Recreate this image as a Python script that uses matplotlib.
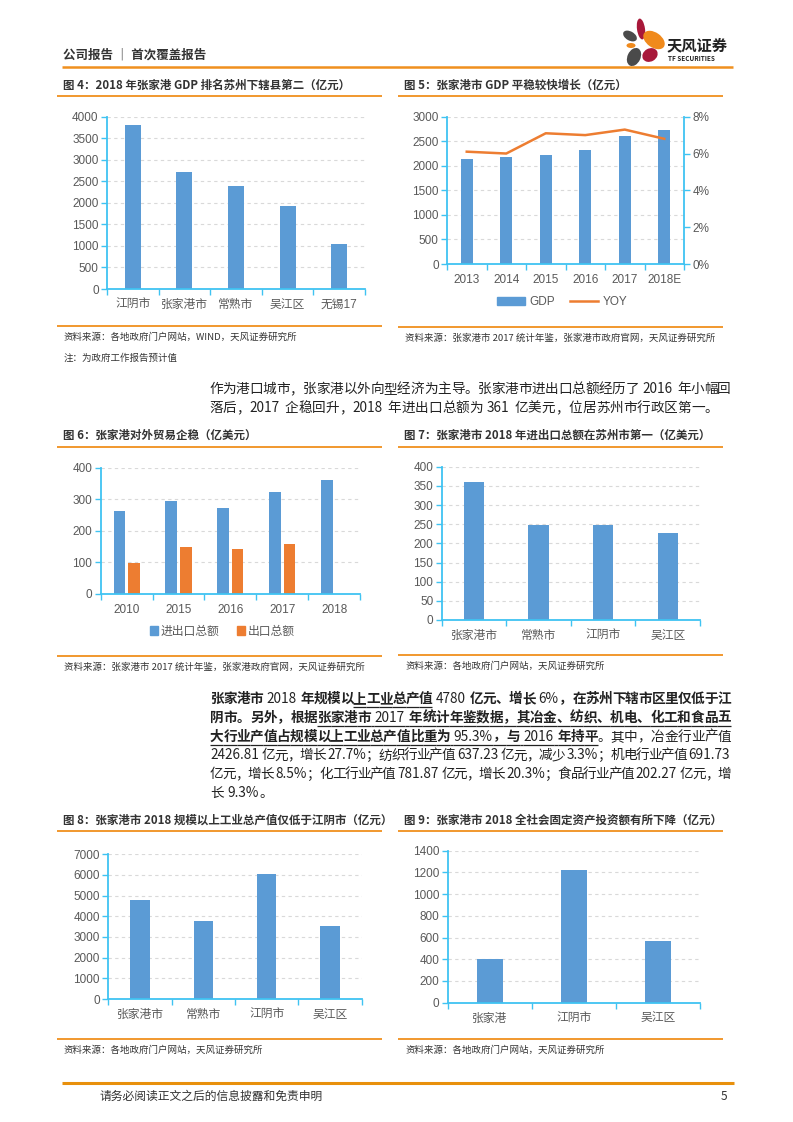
import re
import numpy as np
import matplotlib
matplotlib.use("Agg")
import matplotlib.pyplot as plt
from matplotlib.patches import Ellipse, Patch
from matplotlib.lines import Line2D

plt.rcParams['font.family'] = ['Liberation Sans', 'Noto Sans CJK SC']

# data
gdp_cities = ['江阴市', '张家港市', '常熟市', '吴江区', '无锡17']
gdp_2018 = [3800, 2718, 2395, 1930, 1050]

zjg_years = ['2013', '2014', '2015', '2016', '2017', '2018E']
zjg_gdp = [2147, 2174, 2228, 2316, 2607, 2722]
zjg_yoy = [6.1, 6.0, 7.1, 7.0, 7.3, 6.8]

trade_years = ['2010', '2015', '2016', '2017', '2018']
trade_total = [262, 293, 273, 322, 361]
trade_export = [99, 148, 141, 159, np.nan]

trade_cities = ['张家港市', '常熟市', '江阴市', '吴江区']
trade_2018 = [361, 249, 248, 228]

ind_cities = ['张家港市', '常熟市', '江阴市', '吴江区']
ind_output = [4780, 3758, 6048, 3516]

inv_cities = ['张家港', '江阴市', '吴江区']
inv_2018 = [399, 1219, 568]

BLUE = '#5B9BD5'
ORANGE = '#ED7D31'
AXC = '#3FC3F2'
LINE = '#F0901E'
TXT = '#595959'
DARK = '#333333'
BODY = ['Noto Sans CJK SC', 'DejaVu Sans']

W, H = 793, 1122
fig = plt.figure(figsize=(W / 100, H / 100), dpi=100)
bg = fig.add_axes([0, 0, 1, 1])
bg.set_xlim(0, W)
bg.set_ylim(H, 0)
bg.set_autoscale_on(False)
bg.axis('off')


def box(x0, y0, x1, y1):
    return [x0 / W, 1 - y1 / H, (x1 - x0) / W, (y1 - y0) / H]


def hline(x0, x1, y, lw=1.3, color=LINE):
    bg.plot([x0, x1], [y, y], color=color, lw=lw, solid_capstyle='butt')


def style(ax, ymax, step, ncat):
    ax.set_facecolor('none')
    ax.set_xlim(-0.5, ncat - 0.5)
    ax.set_ylim(0, ymax)
    ax.set_yticks(np.arange(0, ymax + 1, step))
    for s in ['top', 'right']:
        ax.spines[s].set_visible(False)
    for s in ['left', 'bottom']:
        ax.spines[s].set_color(AXC)
        ax.spines[s].set_linewidth(1.3)
    ax.yaxis.grid(True, color='#D9D9D9', lw=0.8, ls=(0, (3, 3)))
    ax.set_axisbelow(True)
    ax.set_xticks(range(ncat))
    ax.set_xticks(np.arange(-0.5, ncat), minor=True)
    ax.tick_params(axis='x', which='major', length=0, pad=7, labelsize=8.5, labelcolor=TXT)
    ax.tick_params(axis='x', which='minor', length=4, color=AXC, width=1)
    ax.tick_params(axis='y', length=4, color=AXC, width=1, labelsize=8.5, labelcolor=TXT, pad=2)


def section(x0, x1, ytitle, title, ybot, source, note=None):
    bg.text(x0 + 6, ytitle, title, fontsize=8.3, fontweight='bold', color=DARK,
            va='center', family=BODY)
    hline(x0, x1, ytitle + 11)
    hline(x0, x1, ybot)
    bg.text(x0 + 7, ybot + 11, source, fontsize=6.8, color=DARK, va='center', family=BODY)
    if note:
        bg.text(x0 + 7, ybot + 32, note, fontsize=6.8, color=DARK, va='center', family=BODY)


def em(size):
    return size * 100 / 72


def draw_line(segs, x0, y, size, right=None, color='#222222'):
    r = fig.canvas.get_renderer()
    items = []
    for text, weight, ul in segs:
        for tok in re.findall(r'[A-Za-z0-9.%]+|.', text):
            if tok == ' ':
                items.append([None, em(size) * 0.28, ul])
                continue
            t = bg.text(x0, y, tok, fontsize=size, fontweight=weight, color=color,
                        va='center', ha='left', family=BODY)
            if ord(tok[0]) > 0x2E80:
                w = em(size)
            else:
                w = t.get_window_extent(r).width + 1
            items.append([t, w, ul])
    gap = 0
    if right is not None and len(items) > 1:
        gap = (right - x0 - sum(i[1] for i in items)) / (len(items) - 1)
    x = x0
    for k, (t, w, ul) in enumerate(items):
        if t is not None:
            t.set_x(x)
        if ul:
            nxt = items[k + 1][2] if k + 1 < len(items) else False
            bg.plot([x, x + w + (gap if nxt else 0)], [y + 8, y + 8], color=color,
                    lw=0.9, solid_capstyle='butt')
        x += w + gap


# header
bg.text(63, 55, '公司报告 ｜ 首次覆盖报告', fontsize=9, fontweight='bold', color=DARK,
        va='center', family=BODY)
hline(62, 733, 67, lw=1.8)
# logo petals
petals = [
    (641, 29, 8, 21, -8, '#A8183A'),
    (630, 36, 15, 9, 30, '#4A4A4A'),
    (654, 40, 24, 15, 35, '#F08A1C'),
    (631, 45.5, 9, 5, 0, '#F08A1C'),
    (650, 55, 16, 13, -30, '#A8183A'),
    (634, 57, 13, 19, 25, '#4A4A4A'),
]
for px, py, pw, ph, ang, c in petals:
    bg.add_patch(Ellipse((px, py), pw, ph, angle=ang, color=c, lw=0))
bg.text(667, 45, '天风证券', fontsize=11, fontweight='bold', color='#222222',
        va='center', family=BODY)
bg.text(668, 58, 'TF SECURITIES', fontsize=4.6, fontweight='bold', color='#222222',
        va='center', family=BODY)

# fig 4
section(57, 382, 85, '图 4：2018 年张家港 GDP 排名苏州下辖县第二（亿元）', 326,
        '资料来源：各地政府门户网站，WIND，天风证券研究所', '注：为政府工作报告预计值')
ax = fig.add_axes(box(107, 116.7, 365, 289))
ax.bar(range(len(gdp_cities)), gdp_2018, width=0.31, color=BLUE)
style(ax, 4000, 500, len(gdp_cities))
ax.set_xticklabels(gdp_cities)

# fig 5
section(398, 723, 85, '图 5：张家港市 GDP 平稳较快增长（亿元）', 326.7,
        '资料来源：张家港市 2017 统计年鉴，张家港市政府官网，天风证券研究所')
ax = fig.add_axes(box(447, 116.7, 684, 264))
ax.bar(range(len(zjg_years)), zjg_gdp, width=0.31, color=BLUE)
style(ax, 3000, 500, len(zjg_years))
ax.set_xticklabels(zjg_years)
ax2 = ax.twinx()
ax2.plot(range(len(zjg_years)), zjg_yoy, color=ORANGE, lw=1.8)
ax2.set_ylim(0, 8)
ax2.set_yticks([0, 2, 4, 6, 8])
ax2.set_yticklabels([f'{v}%' for v in [0, 2, 4, 6, 8]])
for s in ['top', 'left', 'bottom']:
    ax2.spines[s].set_visible(False)
ax2.spines['right'].set_color(AXC)
ax2.spines['right'].set_linewidth(1.3)
ax2.tick_params(axis='y', length=4, color=AXC, width=1, labelsize=8.5, labelcolor=TXT, pad=2)
fig.legend(handles=[Patch(color=BLUE, label='GDP'),
                    Line2D([], [], color=ORANGE, lw=1.8, label='YOY')],
           loc='center', bbox_to_anchor=(562 / W, 1 - 302 / H), ncol=2, frameon=False,
           fontsize=8.5, labelcolor=TXT, handlelength=2.4, handleheight=0.6,
           handletextpad=0.4, columnspacing=1.2)

# paragraph 1
draw_line([('作为港口城市，张家港以外向型经济为主导。张家港市进出口总额经历了 2016 年小幅回', 'normal', False)],
          209, 389, 9.8, right=731)
draw_line([('落后，2017 企稳回升，2018 年进出口总额为 361 亿美元，位居苏州市行政区第一。', 'normal', False)],
          209, 408, 9.8)

# fig 6
section(57, 382, 435.7, '图 6：张家港对外贸易企稳（亿美元）', 655.7,
        '资料来源：张家港市 2017 统计年鉴，张家港政府官网，天风证券研究所')
ax = fig.add_axes(box(100.7, 467.7, 360, 594))
xs = np.arange(len(trade_years))
ax.bar(xs - 0.14, trade_total, width=0.225, color=BLUE)
ax.bar(xs + 0.14, trade_export, width=0.225, color=ORANGE)
style(ax, 400, 100, len(trade_years))
ax.set_xticklabels(trade_years)
fig.legend(handles=[Patch(color=BLUE, label='进出口总额'),
                    Patch(color=ORANGE, label='出口总额')],
           loc='center', bbox_to_anchor=(222 / W, 1 - 631.7 / H), ncol=2, frameon=False,
           fontsize=8.5, labelcolor=TXT, handlelength=0.7, handleheight=0.7,
           handletextpad=0.2, columnspacing=1.5)

# fig 7
section(398, 723, 435.7, '图 7：张家港市 2018 年进出口总额在苏州市第一（亿美元）', 655,
        '资料来源：各地政府门户网站，天风证券研究所')
ax = fig.add_axes(box(441.7, 466.7, 700, 620))
ax.bar(range(len(trade_cities)), trade_2018, width=0.315, color=BLUE)
style(ax, 400, 50, len(trade_cities))
ax.set_xticklabels(trade_cities)

# paragraph 2
B, N = 'bold', 'normal'
para2 = [
    [('张家港市 ', B, False), ('2018', N, False), (' 年规模以', B, False),
     ('上工业总产值', B, True), (' ', B, False), ('4780', N, False), (' 亿元、增长 ', B, False),
     ('6%', N, False), ('，在苏州下辖市区里仅低于江', B, False)],
    [('阴市。另外，根据', B, False), ('张家港市 ', B, True), ('2017', N, True),
     (' 年统计年鉴数据，其冶金、纺织、机电、化工和食品五', B, True)],
    [('大行业产值占规模以上工业总产值比重为 ', B, True), ('95.3%', N, True), ('，与 ', B, True),
     ('2016', N, True), (' 年持平', B, True), ('。其中，冶金行业产值', N, False)],
    [('2426.81 亿元，增长 27.7%；纺织行业产值 637.23 亿元，减少 3.3%；机电行业产值 691.73', N, False)],
    [('亿元，增长 8.5%；化工行业产值 781.87 亿元，增长 20.3%；食品行业产值 202.27 亿元，增', N, False)],
    [('长 9.3%。', N, False)],
]
for i, segs in enumerate(para2):
    y = 699 + i * 18.8
    draw_line(segs, 210, y, 9.8, right=731 if i < 5 else None)

# fig 8
section(57, 382, 820, '图 8：张家港市 2018 规模以上工业总产值仅低于江阴市（亿元）', 1039.3,
        '资料来源：各地政府门户网站，天风证券研究所')
ax = fig.add_axes(box(108.3, 854.3, 361.7, 999))
ax.bar(range(len(ind_cities)), ind_output, width=0.305, color=BLUE)
style(ax, 7000, 1000, len(ind_cities))
ax.set_xticklabels(ind_cities)

# fig 9
section(398, 723, 820, '图 9：张家港市 2018 全社会固定资产投资额有所下降（亿元）', 1039.3,
        '资料来源：各地政府门户网站，天风证券研究所')
ax = fig.add_axes(box(447.7, 850.7, 700, 1002.7))
ax.bar(range(len(inv_cities)), inv_2018, width=0.31, color=BLUE)
style(ax, 1400, 200, len(inv_cities))
ax.set_xticklabels(inv_cities)

# footer
hline(62, 734, 1083, lw=2.2, color='#E8900C')
bg.text(100, 1096, '请务必阅读正文之后的信息披露和免责申明', fontsize=8.5, color=DARK,
        va='center', family=BODY)
bg.text(724, 1096, '5', fontsize=8.5, color=DARK, va='center', ha='center', family=BODY)

fig.savefig('out.png', dpi=100)
